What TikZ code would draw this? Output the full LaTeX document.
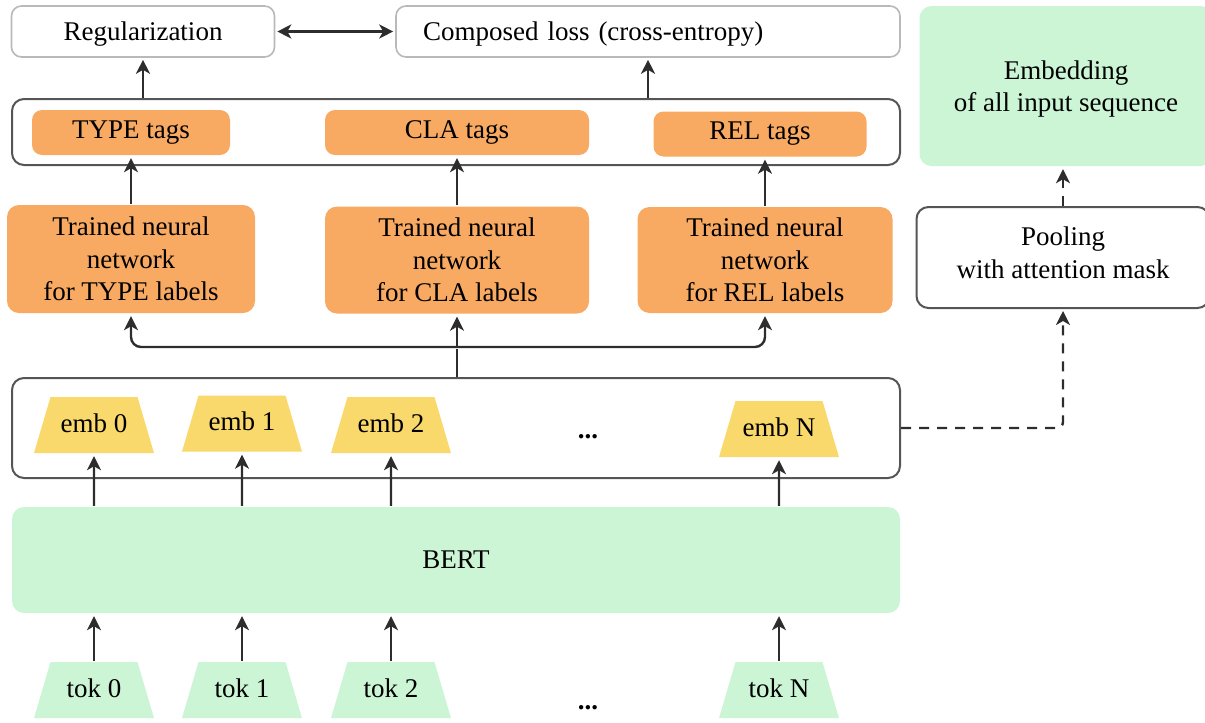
\documentclass[tikz,border=0pt]{standalone}
\usepackage{fontspec}
\setmainfont{Liberation Serif}
\usetikzlibrary{shapes.geometric}
\usetikzlibrary{positioning}
\usetikzlibrary{arrows.meta}

\definecolor{tagorange}{RGB}{248,169,98}
\definecolor{embyellow}{RGB}{249,217,108}
\definecolor{bertgreen}{RGB}{203,245,213}
\definecolor{boxgray}{RGB}{185,185,185}
\definecolor{framegray}{RGB}{85,85,85}
\definecolor{arrowgray}{RGB}{45,45,45}

\begin{document}
\begin{tikzpicture}[->,>={Stealth[length=7pt,width=7pt,inset=2pt]},shorten >=1pt,x=0.5pt,y=-0.5pt,
	line width=1.2pt,draw=arrowgray,
	every node/.style={font=\fontsize{13.5}{16.3}\selectfont,inner sep=0pt,align=center},
	top box/.style={draw=boxgray,line width=0.8pt,rounded corners=5pt,fill=white,minimum height=25.5pt,
		text height=9pt,text depth=0.5pt},
	frame box/.style={draw=framegray,line width=1pt,rounded corners=6pt},
	tag node/.style={fill=tagorange,rounded corners=5pt,minimum height=22.5pt},
	net node/.style={fill=tagorange,rounded corners=6pt},
	green node/.style={fill=bertgreen,rounded corners=6pt},
	emb node/.style={trapezium,trapezium left angle=73.6,trapezium right angle=73.6,
		text width=37pt,align=flush center,text height=10pt,text depth=3pt,inner xsep=3.25pt,inner ysep=7.5pt,fill=embyellow},
	tok node/.style={emb node,fill=bertgreen},
	dash line/.style={dash pattern=on 5pt off 4pt}]
	
	\clip (0,0) rectangle (1205,723);
	
	% top row
	\node[top box, minimum width=131.5pt] (reg) at (143,31.5) {Regularization};
	\node[top box, minimum width=252pt, text width=225pt, inner xsep=13.5pt, align=left] (loss) at (648,31.5) {Composed loss (cross-entropy)};
	
	% tags
	\node[frame box, minimum width=444pt, minimum height=33pt] (tagsbox) at (456,132) {};
	\node[tag node, minimum width=99pt] (typetags) at (131,132.5) {TYPE tags};
	\node[tag node, minimum width=132pt] (clatags) at (457,132.5) {CLA tags};
	\node[tag node, minimum width=106.5pt] (reltags) at (760,134) {REL tags};
	
	% trained networks
	\node[net node, minimum width=124pt, minimum height=54pt] (typenn) at (131,259) {Trained neural\\network\\for TYPE labels};
	\node[net node, minimum width=132pt, minimum height=53.5pt] (clann) at (457,260) {Trained neural\\network\\for CLA labels};
	\node[net node, minimum width=127.5pt, minimum height=53pt] (relnn) at (765,260) {Trained neural\\network\\for REL labels};
	
	% embeddings
	\node[frame box, minimum width=444pt, minimum height=50pt] (embbox) at (456,428) {};
	\node[emb node] (emb0) at (94,425) {emb 0};
	\node[emb node] (emb1) at (242,423.5) {emb 1};
	\node[emb node] (emb2) at (391,425) {emb 2};
	\node[emb node] (embN) at (779,429) {emb N};
	\node (embdots) at (588,437) {\textbf{...}};
	
	% BERT and tokens
	\node[green node, minimum width=444pt, minimum height=53pt] (bert) at (456,560) {BERT};
	\node[tok node] (tok0) at (94,690) {tok 0};
	\node[tok node] (tok1) at (242,690) {tok 1};
	\node[tok node] (tok2) at (391,690) {tok 2};
	\node[tok node] (tokN) at (779,690) {tok N};
	\node (tokdots) at (588,708) {\textbf{...}};
	
	% right column
	\node[green node, minimum width=146.5pt, minimum height=80pt, text depth=0pt] (embed) at (1066,86) {Embedding\\of all input sequence};
	\node[frame box, fill=white, minimum width=146.5pt, minimum height=50.5pt, text depth=5pt] (pool) at (1063,257.5) {Pooling\\with attention mask};
	
	\coordinate (fork) at (457,347);
	
	\path
	(reg) edge [<->, shorten <=1pt] (loss)
	(tagsbox.north -| reg) edge (reg)
	(tagsbox.north -| loss) edge (loss)
	(typenn.north) edge (typenn.north |- typetags.south)
	(clann.north) edge (clann.north |- clatags.south)
	(relnn.north) edge (relnn.north |- reltags.south)
	(fork) edge (clann.south)
	(bert.north -| emb0) edge (emb0.south)
	(bert.north -| emb1) edge (emb1.south)
	(bert.north -| emb2) edge (emb2.south)
	(bert.north -| embN) edge (embN.south)
	(tok0.north) edge (tok0.north |- bert.south)
	(tok1.north) edge (tok1.north |- bert.south)
	(tok2.north) edge (tok2.north |- bert.south)
	(tokN.north) edge (tokN.north |- bert.south)
	(pool.north) edge [dash line] (pool.north |- embed.south);
	
	\draw[-] (embbox.north -| fork) -- (fork);
	\draw[rounded corners=5pt] (fork) -| (typenn.south);
	\draw[rounded corners=5pt] (fork) -| (relnn.south);
	\draw[dash line, rounded corners=3pt] (embbox.east) -| (pool.south);
\end{tikzpicture}
\end{document}
